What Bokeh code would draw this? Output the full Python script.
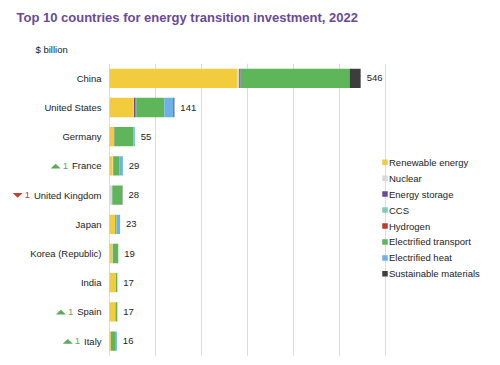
from bokeh.plotting import figure
from bokeh.models import ColumnDataSource, Range1d
from bokeh.core.properties import value
from bokeh.embed import file_html
from bokeh.resources import INLINE

# ---- data ($ billion, 2022) ----
countries = ["China", "United States", "Germany", "France", "United Kingdom",
             "Japan", "Korea (Republic)", "India", "Spain", "Italy"]
totals = [546, 141, 55, 29, 28, 23, 19, 17, 17, 16]
rank_change = [0, 0, 0, 1, -1, 0, 0, 0, 1, 1]

sectors = ["Renewable energy", "Nuclear", "Energy storage", "CCS", "Hydrogen",
           "Electrified transport", "Electrified heat", "Sustainable materials"]
renewable = [277, 52, 10, 7, 0, 12, 6, 14, 13, 3]
nuclear = [5, 1, 0, 1, 6, 0, 1, 0, 0, 0]
storage = [3, 4, 1, 0, 0, 1, 0, 0, 0, 0]
ccs = [0, 1, 0, 0, 0, 0, 0, 0, 0, 0]
hydrogen = [0, 0, 0, 0, 0, 0, 0, 0, 0, 0]
transport = [237, 61, 41, 14, 21, 2, 12, 3, 4, 9]
heat = [0, 20, 3, 7, 0, 8, 0, 0, 0, 4]
materials = [24, 2, 0, 0, 1, 0, 0, 0, 0, 0]
grid_ticks = [0, 100, 200, 300, 400, 500, 600]

colors = ["#f2cc3d", "#d9d9d9", "#6b4c9a", "#7fcdb4", "#c0392b",
          "#5eb55a", "#6cb2e8", "#3d3d3d"]
FONT = value("Liberation Sans")
TXT = "#222222"

# ---- canvas geometry: one frame covering the whole page ----
W, H = 500, 365
X0_PX, PX_PER_UNIT = 109, 0.46      # where 0 sits and pixels per $bn
TOP_PX, ROW_PX = 63.2, 29.2          # top of first row and row pitch


def xu(px):
    return (px - X0_PX) / PX_PER_UNIT


def yu(px):
    return (px - TOP_PX) / ROW_PX


p = figure(width=W, height=H, output_backend="svg", toolbar_location=None,
           x_range=Range1d(xu(0), xu(W)), y_range=Range1d(yu(H), yu(0)),
           min_border=0)
p.axis.visible = False
p.grid.visible = False
p.outline_line_color = None
p.background_fill_color = "white"
p.border_fill_color = "white"

rows = [i + 0.5 for i in range(len(countries))]

# vertical gridlines
p.segment(x0=grid_ticks, y0=[0] * len(grid_ticks), x1=grid_ticks,
          y1=[len(countries)] * len(grid_ticks), line_color="#dcdcdc", line_width=1)

# stacked bars
src = ColumnDataSource(dict(y=rows, renewable=renewable, nuclear=nuclear,
                            storage=storage, ccs=ccs, hydrogen=hydrogen,
                            transport=transport, heat=heat, materials=materials))
keys = ["renewable", "nuclear", "storage", "ccs", "hydrogen", "transport", "heat", "materials"]
p.hbar_stack(keys, y="y", height=0.66, color=colors, line_color=None, source=src)

# value labels
p.text(x=totals, y=rows, text=[str(t) for t in totals], x_offset=6,
       text_baseline="middle", text_align="left", text_font=FONT,
       text_font_size="9.5px", text_color=TXT)

# country labels
p.text(x=[0] * len(countries), y=rows, text=countries, x_offset=-8,
       text_align="right", text_baseline="middle", text_font=FONT,
       text_font_size="9.5px", text_color=TXT)

# rank change markers (label width estimated from Helvetica metrics)
AFM = {' ': 278, '(': 333, ')': 333, 'C': 722, 'F': 611, 'G': 778, 'I': 278,
       'J': 500, 'K': 667, 'R': 722, 'S': 667, 'U': 722, 'a': 556, 'b': 556,
       'c': 500, 'd': 556, 'e': 556, 'g': 556, 'h': 556, 'i': 222, 'k': 500,
       'l': 222, 'm': 833, 'n': 556, 'o': 556, 'p': 556, 'r': 333, 's': 500,
       't': 278, 'u': 556, 'y': 500}


def text_px(s, size=9.5):
    return sum(AFM.get(c, 556) for c in s) * size / 1000.0


up_c, down_c = "#5aaa5a", "#c8402e"
tri_xs, tri_ys, tri_col = [], [], []
num_x, num_y, num_off, num_col = [], [], [], []
for name, r, ch in zip(countries, rows, rank_change):
    if ch == 0:
        continue
    start = 8 + text_px(name)
    col = up_c if ch > 0 else down_c
    num_x.append(0)
    num_y.append(r)
    num_off.append(-(start + 4))
    num_col.append(col)
    cx = xu(X0_PX - (start + 16.3))
    hw = 5 / PX_PER_UNIT
    hh = 2.4 / ROW_PX
    cy = r + 0.3 / ROW_PX
    tri_xs.append([cx - hw, cx + hw, cx])
    if ch > 0:
        tri_ys.append([cy + hh, cy + hh, cy - hh])
    else:
        tri_ys.append([cy - hh, cy - hh, cy + hh])
    tri_col.append(col)

p.patches(xs=tri_xs, ys=tri_ys, fill_color=tri_col, line_color=None)
p.text(x=num_x, y=num_y, text=["1"] * len(num_x), x_offset=num_off,
       text_align="right", text_baseline="middle", text_font=FONT,
       text_font_size="9.5px", text_color=num_col)

# title and unit
p.text(x=[xu(16)], y=[yu(16.7)], text=["Top 10 countries for energy transition investment, 2022"],
       text_font=FONT, text_font_size="13px", text_font_style="bold",
       text_color="#6a4a96", text_baseline="alphabetic", text_align="left")
p.text(x=[xu(35)], y=[yu(49.3)], text=["$ billion"], text_font=FONT,
       text_font_size="9.5px", text_color=TXT, text_baseline="alphabetic")

# legend
leg_y = [yu(161.7 + 15.95 * k) for k in range(len(sectors))]
p.rect(x=[xu(384.5)] * len(sectors), y=leg_y, width=5.5, height=5.5,
       width_units="screen", height_units="screen", fill_color=colors, line_color=None)
p.text(x=[xu(388.5)] * len(sectors), y=leg_y, text=sectors, text_font=FONT,
       text_font_size="9.5px", text_color=TXT, text_baseline="middle", text_align="left")

open("out.html", "w").write(file_html(p, INLINE))
